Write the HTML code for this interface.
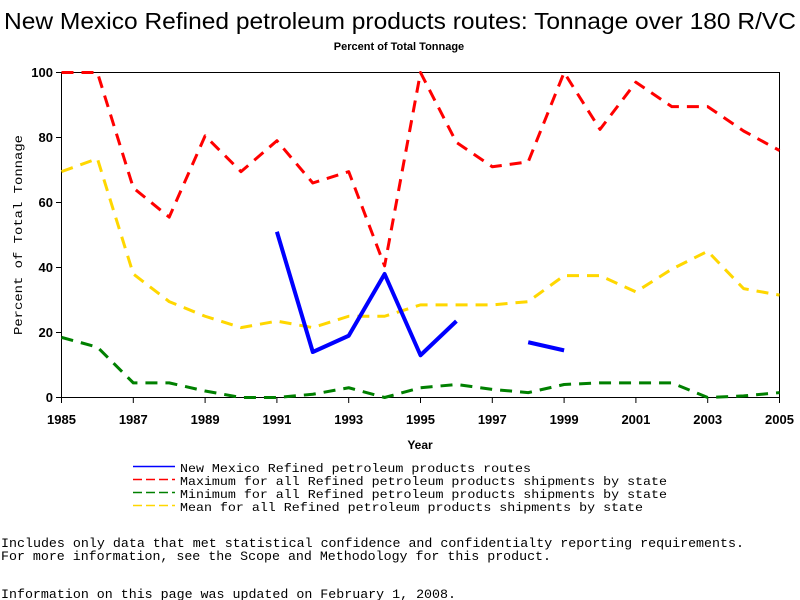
<!DOCTYPE html>
<html><head><meta charset="utf-8"><style>body{margin:0;background:#fff}svg{display:block}</style></head>
<body>
<svg id="chart" width="800" height="600" xmlns="http://www.w3.org/2000/svg" font-family="Liberation Sans, sans-serif">
<text x="400" y="29" font-size="23" text-anchor="middle" textLength="792" lengthAdjust="spacingAndGlyphs">New Mexico Refined petroleum products routes: Tonnage over 180 R/VC</text>
<text x="399" y="50" font-size="11" font-weight="bold" text-anchor="middle">Percent of Total Tonnage</text>
<rect x="61.5" y="72.5" width="718" height="325" fill="none" stroke="#000" stroke-width="1"/>
<g id="axes"></g>
<g id="series"></g>
<text x="420" y="449" font-size="12" font-weight="bold" text-anchor="middle">Year</text>
<text transform="translate(22,235) rotate(-90)" font-family="Liberation Mono, monospace" font-size="12" text-anchor="middle" textLength="200" lengthAdjust="spacingAndGlyphs">Percent of Total Tonnage</text>
<g font-family="Liberation Mono, monospace" font-size="12">
<line x1="133" y1="466.5" x2="175" y2="466.5" stroke="#0000ff" stroke-width="1.5"/>
<text x="180" y="472" textLength="351" lengthAdjust="spacingAndGlyphs">New Mexico Refined petroleum products routes</text>
<line x1="133" y1="479.5" x2="175" y2="479.5" stroke="#ff0000" stroke-width="1.5" stroke-dasharray="9,4"/>
<text x="180" y="485" textLength="487" lengthAdjust="spacingAndGlyphs">Maximum for all Refined petroleum products shipments by state</text>
<line x1="133" y1="492.5" x2="175" y2="492.5" stroke="#008000" stroke-width="1.5" stroke-dasharray="9,4"/>
<text x="180" y="498" textLength="487" lengthAdjust="spacingAndGlyphs">Minimum for all Refined petroleum products shipments by state</text>
<line x1="133" y1="505.5" x2="175" y2="505.5" stroke="#ffd700" stroke-width="1.5" stroke-dasharray="9,4"/>
<text x="180" y="511" textLength="463" lengthAdjust="spacingAndGlyphs">Mean for all Refined petroleum products shipments by state</text>
</g>
<g font-family="Liberation Mono, monospace" font-size="13">
<text x="1" y="547" textLength="743" lengthAdjust="spacingAndGlyphs">Includes only data that met statistical confidence and confidentialty reporting requirements.</text>
<text x="1" y="560" textLength="550" lengthAdjust="spacingAndGlyphs">For more information, see the Scope and Methodology for this product.</text>
<text x="1" y="598" textLength="455" lengthAdjust="spacingAndGlyphs">Information on this page was updated on February 1, 2008.</text>
</g>
</svg>
<script>
const years = [1985,1986,1987,1988,1989,1990,1991,1992,1993,1994,1995,1996,1997,1998,1999,2000,2001,2002,2003,2004,2005];
const maxVals = [100,100,64.5,55.5,80.5,69.5,79,66,69.5,40.5,100,78.5,71,72.5,100,82.5,97,89.5,89.5,82,76];
const meanVals = [69.5,73.5,38,29.5,25,21.5,23.5,21.5,25,25,28.5,28.5,28.5,29.5,37.5,37.5,32.5,39.5,45,33.5,31.5];
const minVals = [18.5,15.5,4.5,4.5,2,0,0,1,3,0,3,4,2.5,1.5,4,4.5,4.5,4.5,0,0.5,1.5];
const nmVals = [null,null,null,null,null,null,51,14,19,38,13,23.5,null,17,14.5,null,null,null,null,null,null];
const xTicks = [1985,1987,1989,1991,1993,1995,1997,1999,2001,2003,2005];
const yTicks = [0,20,40,60,80,100];

const NS = 'http://www.w3.org/2000/svg';
const x = v => 61.5 + (v - 1985) * 718 / 20;
const y = v => 397.5 - v * 3.25;
const axes = document.getElementById('axes');
const series = document.getElementById('series');
function mk(tag, attrs, parent){const e=document.createElementNS(NS,tag);for(const k in attrs)e.setAttribute(k,attrs[k]);parent.appendChild(e);return e;}
yTicks.forEach(t=>{
  const l=mk('line',{x1:56,x2:61.5,y1:y(t),y2:y(t),stroke:'#000'},axes);
  
  
  const tx=mk('text',{x:53,y:y(t)+4.5,'font-size':13,'font-weight':'bold','text-anchor':'end'},axes);
  tx.textContent=t;
  
  
});
xTicks.forEach(t=>{
  const l=mk('line',{x1:x(t),x2:x(t),y1:397.5,y2:403,stroke:'#000'},axes);
  
  
  const tx=mk('text',{x:x(t),y:424,'font-size':13,'font-weight':'bold','text-anchor':'middle'},axes);
  tx.textContent=t;
  
  
});
function draw(vals,color,dash,width,name){
  let segs=[],cur=[];
  vals.forEach((v,i)=>{if(v===null){if(cur.length)segs.push(cur);cur=[];}else cur.push(x(years[i])+','+y(v));});
  if(cur.length)segs.push(cur);
  segs.forEach(s=>{
    const p=mk('polyline',{points:s.join(' '),fill:'none',stroke:color,'stroke-width':width,'stroke-dasharray':dash,'stroke-linejoin':'round'},series);
    
    
  });
}
draw(maxVals,'#ff0000','12,8',3,'max-line');
draw(meanVals,'#ffd700','12,8',3,'mean-line');
draw(minVals,'#008000','12,8',3,'min-line');
draw(nmVals,'#0000ff','none',4,'new-mexico-line');
</script>
</body></html>
